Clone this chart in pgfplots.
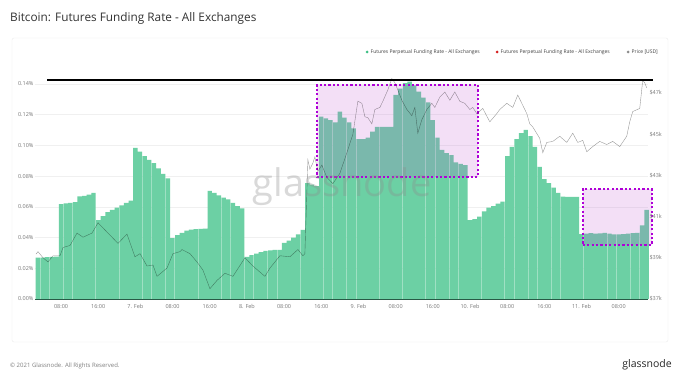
\documentclass[border=0pt]{standalone}
\usepackage{pgfplots}
\pgfplotsset{compat=1.18}
\usepackage{pgfplotstable}
\usepackage{fontspec}
\setmainfont{Open Sans}
\definecolor{barGreen}{RGB}{108,208,164}
\definecolor{baseTeal}{RGB}{40,90,70}
\definecolor{dotPurple}{RGB}{175,0,215}
\definecolor{tintPurple}{RGB}{190,80,210}
\definecolor{tickGray}{RGB}{120,120,120}
\definecolor{titleGray}{RGB}{50,50,50}
\definecolor{legRed}{RGB}{214,32,32}
\definecolor{legGreen}{RGB}{61,191,133}

\pgfplotstableread{
h v
3 0.0270
4 0.0270
5 0.0272
6 0.0274
7 0.0275
8 0.0618
9 0.0622
10 0.0626
11 0.0630
12 0.0668
13 0.0672
14 0.0680
15 0.0690
16 0.0514
17 0.0540
18 0.0565
19 0.0580
20 0.0595
21 0.0610
22 0.0625
23 0.0640
24 0.0983
25 0.0960
26 0.0930
27 0.0905
28 0.0885
29 0.0850
30 0.0815
31 0.0785
32 0.0397
33 0.0415
34 0.0430
35 0.0445
36 0.0452
37 0.0455
38 0.0457
39 0.0458
40 0.0703
41 0.0690
42 0.0675
43 0.0660
44 0.0648
45 0.0625
46 0.0605
47 0.0590
48 0.0274
49 0.0285
50 0.0295
51 0.0305
52 0.0313
53 0.0317
54 0.0320
55 0.0320
56 0.0365
57 0.0380
58 0.0400
59 0.0420
60 0.0450
61 0.0755
62 0.0745
63 0.0735
64 0.1187
65 0.1175
66 0.1165
67 0.1150
68 0.1220
69 0.1180
70 0.1150
71 0.1110
72 0.1040
73 0.1040
74 0.1050
75 0.1090
76 0.1120
77 0.1120
78 0.1120
79 0.1120
80 0.1328
81 0.1370
82 0.1405
83 0.1415
84 0.1390
85 0.1350
86 0.1310
87 0.1280
88 0.1165
89 0.1050
90 0.0970
91 0.0950
92 0.0937
93 0.0890
94 0.0880
95 0.0872
96 0.0514
97 0.0520
98 0.0536
99 0.0570
100 0.0595
101 0.0605
102 0.0620
103 0.0634
104 0.0930
105 0.0990
106 0.1040
107 0.1080
108 0.1100
109 0.1060
110 0.0990
111 0.0860
112 0.0780
113 0.0755
114 0.0725
115 0.0690
116 0.0666
117 0.0665
118 0.0664
119 0.0664
120 0.0423
121 0.0425
122 0.0428
123 0.0425
124 0.0427
125 0.0430
126 0.0425
127 0.0420
128 0.0420
129 0.0422
130 0.0425
131 0.0428
132 0.0430
133 0.0480
134 0.0580
}\fundingtable

\pgfplotstableread{
h p
2.62 39.18
3.05 39.30
4.13 39.00
5.20 38.80
6.28 39.10
7.78 39.10
8.43 39.50
9.94 39.60
11.44 40.20
12.73 40.00
14.67 40.20
15.96 40.70
17.46 40.35
18.54 40.10
20.26 39.70
22.19 40.15
23.91 39.05
25.00 39.20
26.50 38.60
27.78 38.65
28.65 38.10
30.80 38.50
32.09 39.20
33.60 39.30
34.02 39.40
35.74 39.20
37.25 38.80
38.54 38.40
40.04 37.50
41.55 37.90
43.27 38.25
44.99 38.10
47.57 39.00
49.29 38.60
51.87 38.10
52.95 38.50
55.10 39.10
57.25 39.05
58.97 39.40
60.04 39.10
60.47 39.20
61.12 43.75
61.55 43.30
62.19 43.60
62.62 43.90
63.27 43.20
64.13 43.50
65.20 42.90
66.49 42.60
68.00 43.10
69.50 44.10
70.80 45.00
71.87 46.60
72.73 46.50
73.38 45.85
74.02 45.80
74.88 45.50
75.53 46.20
76.60 46.30
77.25 46.60
78.32 47.15
79.18 47.70
79.83 47.50
80.47 47.15
81.33 46.65
82.41 46.20
83.48 45.90
84.13 46.30
84.77 45.05
85.63 45.70
86.71 46.20
87.78 46.50
88.43 46.30
89.50 46.80
90.58 47.05
91.66 46.65
92.73 47.05
93.81 46.60
94.88 46.50
95.96 46.20
96.60 46.30
97.46 46.00
98.75 46.25
100.26 45.60
101.76 46.00
102.41 46.20
103.91 46.50
105.20 46.30
106.28 46.90
107.14 46.50
108.22 46.00
108.86 45.50
109.51 45.35
111.00 44.80
111.66 44.10
112.52 44.60
113.81 44.65
115.31 44.90
116.82 44.60
118.11 45.05
119.18 44.60
120.26 44.70
121.12 44.15
122.41 44.40
123.91 44.65
125.42 44.50
126.71 44.65
128.22 44.40
129.72 44.90
130.37 45.60
131.01 46.10
132.52 46.25
133.16 47.60
133.59 47.50
134.02 47.25
}\pricetable

\begin{document}
\begin{tikzpicture}[x=1pt,y=1pt]
% page background and card
\fill[white] (0,0) rectangle (680,383);
\draw[black!8, fill=white, rounded corners=2pt] (12,41) rectangle (668,345);
% title
\node[anchor=west, inner sep=0pt, text=titleGray, font=\fontsize{11.8}{13}\selectfont] at (10,365) {Bitcoin: Futures Funding Rate - All Exchanges};
% legend
\begin{scope}[font=\fontsize{5}{6}\selectfont]
\fill[legGreen] (367,331) circle (1.5);
\node[anchor=west, inner sep=0pt, text=black!75] at (370.5,331) {Futures Perpetual Funding Rate - All Exchanges};
\fill[legRed] (497,331) circle (1.5);
\node[anchor=west, inner sep=0pt, text=black!75] at (500.5,331) {Futures Perpetual Funding Rate - All Exchanges};
\fill[black!45] (628,331) circle (1.5);
\node[anchor=west, inner sep=0pt, text=black!75] at (631.5,331) {Price [USD]};
\end{scope}

\begin{axis}[
  at={(35pt,84pt)}, anchor=south west,
  scale only axis, width=613pt, height=224pt,
  xmin=2.4, xmax=134.3, ymin=0, ymax=0.1458,
  axis x line*=bottom, axis y line*=left,
  x axis line style={draw=baseTeal, line width=0.6pt, -},
  y axis line style={draw=none},
  major tick length=0pt,
  xtick={8,16,...,128},
  xticklabels={08:00,16:00,7. Feb,08:00,16:00,8. Feb,08:00,16:00,9. Feb,08:00,16:00,10. Feb,08:00,16:00,11. Feb,08:00},
  ytick={0,0.02,...,0.14},
  yticklabels={0.00\%,0.02\%,0.04\%,0.06\%,0.08\%,0.10\%,0.12\%,0.14\%},
  ticklabel style={font=\fontsize{5.5}{6}\selectfont, text=tickGray},
  yticklabel style={xshift=2pt},
  xticklabel style={yshift=-1.5pt},
  ymajorgrids, grid style={black!6, line width=0.4pt},
  clip=false,
]
\addplot[ybar, bar width=0.93, fill=barGreen, draw=none] table[x=h, y=v] {\fundingtable};
\addplot[draw=dotPurple, line width=2.2pt, dash pattern=on 2.2pt off 2.2pt, fill=tintPurple, fill opacity=0.18]
  coordinates {(63.05,0.0794) (97.7,0.0794) (97.7,0.1393) (63.05,0.1393)} -- cycle;
\addplot[draw=dotPurple, line width=2.2pt, dash pattern=on 2.2pt off 2.2pt, fill=tintPurple, fill opacity=0.18]
  coordinates {(120.25,0.0352) (135.1,0.0352) (135.1,0.0716) (120.25,0.0716)} -- cycle;
\addplot[black, line width=1.2pt] coordinates {(5.0,0.1426) (135.3,0.1426)};
\end{axis}

\begin{axis}[
  at={(35pt,84pt)}, anchor=south west,
  scale only axis, width=613pt, height=224pt,
  xmin=2.4, xmax=134.3, ymin=37, ymax=47.874,
  axis x line=none, axis y line*=right,
  y axis line style={draw=none},
  major tick length=0pt,
  ytick={37,39,...,47},
  yticklabels={\$37k,\$39k,\$41k,\$43k,\$45k,\$47k},
  ticklabel style={font=\fontsize{5.5}{6}\selectfont, text=tickGray},
  yticklabel style={xshift=-2pt},
  clip=false,
]
\addplot[black, opacity=0.4, line width=0.4pt] table[x=h, y=p] {\pricetable};
\end{axis}

% watermark
\node[text=black!45, text opacity=0.33, font=\fontsize{38}{40}\selectfont] at (342,196) {glassnode};
% footer
\node[anchor=west, inner sep=0pt, text=black!50, font=\fontsize{6}{7}\selectfont] at (10,17) {\textcopyright{} 2021 Glassnode. All Rights Reserved.};
\node[anchor=east, inner sep=0pt, text=black!85, font=\fontsize{10.5}{11}\selectfont] at (672,18) {glassnode};
\end{tikzpicture}
\end{document}
